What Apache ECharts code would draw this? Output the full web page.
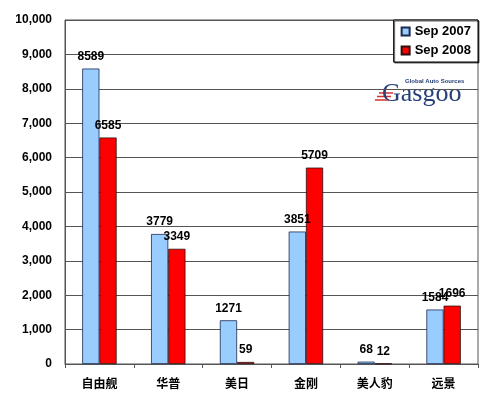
<!DOCTYPE html>
<html>
	<head>
		<meta charset="UTF-8" />
		<script src="https://cdn.jsdelivr.net/npm/echarts@6/dist/echarts.min.js"></script>
		<title>Sep 2007 vs Sep 2008</title>
		<style>
			body {
				margin: 0;
				background-color: #fff;
			}
			#main {
				width: 500px;
				height: 404px;
			}
		</style>
	</head>
	<body>
		<div id="main"></div>
		<script>
			// 品牌
			var brands = ['自由舰', '华普', '美日', '金刚', '美人豹', '远景']
			var sales2007 = [8589, 3779, 1271, 3851, 68, 1584]
			var sales2008 = [6585, 3349, 59, 5709, 12, 1696]
			var seriesNames = ['Sep 2007', 'Sep 2008']

			var chart = echarts.init(document.getElementById('main'))

			var labelStyle = {
				show: true,
				position: 'top',
				distance: 6,
				color: '#000',
				fontFamily: 'Liberation Sans, Arial',
				fontWeight: 'bold',
				fontSize: 12,
			}

			var option = {
				backgroundColor: '#fff',
				animation: false,
				grid: {
					left: 65,
					right: 22,
					top: 20,
					bottom: 40,
					show: true,
					borderColor: '#555',
					borderWidth: 1,
				},
				legend: {
					data: seriesNames,
					orient: 'vertical',
					right: 22,
					top: 20,
					icon: 'rect',
					padding: [5, 7],
					itemGap: 6,
					itemWidth: 8,
					itemHeight: 8,
					backgroundColor: '#fff',
					borderColor: '#000',
					borderWidth: 1,
					shadowColor: 'rgba(0,0,0,0.6)',
					shadowOffsetX: 1,
					shadowOffsetY: 1,
					textStyle: {
						color: '#000',
						fontFamily: 'Liberation Sans, Arial',
						fontWeight: 'bold',
						fontSize: 13,
					},
				},
				xAxis: {
					type: 'category',
					data: brands,
					axisLine: { lineStyle: { color: '#555' } },
					axisTick: { show: true, length: 4, lineStyle: { color: '#555' } },
					axisLabel: {
						color: '#000',
						fontFamily: 'Noto Sans CJK SC',
						fontWeight: 'bold',
						fontSize: 12,
						margin: 13,
					},
				},
				yAxis: {
					type: 'value',
					min: 0,
					max: 10000,
					interval: 1000,
					axisLine: { show: true, lineStyle: { color: '#555' } },
					axisTick: { show: false },
					splitLine: { lineStyle: { color: '#555', width: 1 } },
					axisLabel: {
						color: '#000',
						fontFamily: 'Liberation Sans, Arial',
						fontWeight: 'bold',
						fontSize: 12,
						margin: 13,
						formatter: function (v) {
							return v.toLocaleString('en-US')
						},
					},
				},
				series: [
					{
						name: seriesNames[0],
						type: 'bar',
						data: sales2007,
						barGap: 0,
						barCategoryGap: '50%',
						itemStyle: { color: '#99ccff', borderColor: '#1a2a50', borderWidth: 0.8 },
						label: labelStyle,
					},
					{
						name: seriesNames[1],
						type: 'bar',
						data: sales2008,
						itemStyle: { color: '#ff0000', borderColor: '#2a1010', borderWidth: 0.8 },
						label: labelStyle,
					},
				],
				// Gasgoo logo
				graphic: [
					{
						type: 'group',
						left: 365,
						top: 75,
						children: [
							{ type: 'rect', shape: { x: 0, y: 0, width: 107, height: 34 }, style: { fill: '#fff' } },
							{ type: 'line', shape: { x1: 14, y1: 18, x2: 28, y2: 18 }, style: { stroke: '#d03030', lineWidth: 1.5 } },
							{ type: 'line', shape: { x1: 12, y1: 21.5, x2: 26, y2: 21.5 }, style: { stroke: '#d03030', lineWidth: 1.5 } },
							{ type: 'line', shape: { x1: 10, y1: 25, x2: 24, y2: 25 }, style: { stroke: '#d03030', lineWidth: 1.5 } },
							{
								type: 'text',
								x: 17,
								y: 6,
								style: {
									text: 'Gasgoo',
									fill: '#27407a',
									font: '26px "Liberation Serif", "DejaVu Serif", serif',
								},
							},
							{
								type: 'text',
								x: 40,
								y: 3,
								style: {
									text: 'Global Auto Sources',
									fill: '#27407a',
									font: 'bold 6px "Liberation Sans", Arial',
								},
							},
						],
					},
				],
			}

			chart.setOption(option)
		</script>
	</body>
</html>
